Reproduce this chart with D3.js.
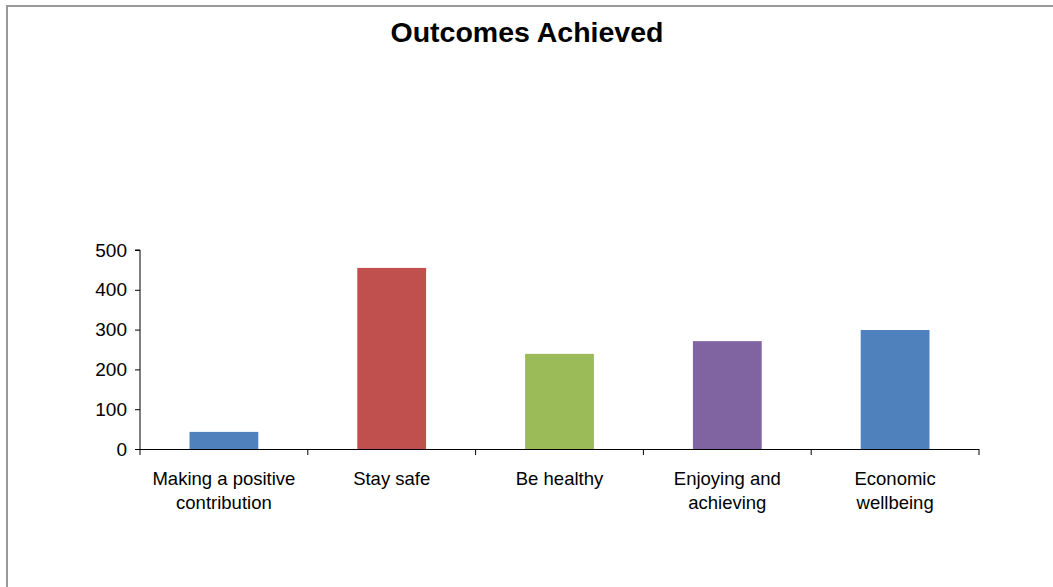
<!DOCTYPE html>
<html>
<head>
<meta charset="utf-8">
<script src="https://cdn.jsdelivr.net/npm/d3@7"></script>
<style>
  html, body { margin: 0; padding: 0; background: #fff; }
  svg { display: block; }
</style>
</head>
<body>
<svg id="chart" width="1053" height="587"></svg>
<script>
const title = "Outcomes Achieved";
const categories = [
  ["Making a positive", "contribution"],
  ["Stay safe"],
  ["Be healthy"],
  ["Enjoying and", "achieving"],
  ["Economic", "wellbeing"]
];
const values = [43, 455, 239, 271, 299];
const colors = ["#4F81BD", "#C0504D", "#9BBB59", "#8064A2", "#4F81BD"];
const yTicks = [0, 100, 200, 300, 400, 500];

const svg = d3.select("#chart");
const W = 1053, H = 587;
const font = "'Liberation Sans', Arial, sans-serif";

// outer frame
svg.append("rect")
  .attr("x", 7).attr("y", 6).attr("width", W + 10).attr("height", H + 10)
  .attr("fill", "#fff").attr("stroke", "#999").attr("stroke-width", 2);

const m = { left: 140, right: 979, top: 250, bottom: 449 };

const x = d3.scaleBand()
  .domain(categories.map((d, i) => i))
  .range([m.left, m.right])
  .paddingInner(0.59)
  .paddingOuter(0.295);

const y = d3.scaleLinear().domain([0, 500]).range([m.bottom, m.top]);

// bars
svg.append("g").selectAll("rect")
  .data(values)
  .join("rect")
  .attr("x", (d, i) => x(i))
  .attr("width", x.bandwidth())
  .attr("y", d => y(d))
  .attr("height", d => y(0) - y(d))
  .attr("fill", (d, i) => colors[i]);

// y axis
const yAxis = svg.append("g")
  .attr("transform", `translate(${m.left},0)`)
  .call(d3.axisLeft(y).tickValues(yTicks).tickSize(5).tickPadding(8));
yAxis.select(".domain").attr("stroke", "#000").attr("d", `M-5,${m.top}H0V${m.bottom}`);
yAxis.selectAll("line").attr("stroke", "#000");
yAxis.selectAll("text").attr("font-family", font).attr("font-size", 19).attr("fill", "#000");

// x axis
const step = (m.right - m.left) / categories.length;
const xg = svg.append("g");
xg.append("line")
  .attr("x1", m.left).attr("x2", m.right)
  .attr("y1", m.bottom + 0.5).attr("y2", m.bottom + 0.5)
  .attr("stroke", "#000");
xg.selectAll("line.tick")
  .data(d3.range(categories.length + 1))
  .join("line")
  .attr("class", "tick")
  .attr("x1", i => m.left + i * step).attr("x2", i => m.left + i * step)
  .attr("y1", m.bottom).attr("y2", m.bottom + 6)
  .attr("stroke", "#000");

const labels = xg.selectAll("text.lab")
  .data(categories)
  .join("text")
  .attr("class", "lab")
  .attr("text-anchor", "middle")
  .attr("font-family", font)
  .attr("font-size", 18.5)
  .attr("fill", "#000")
  .attr("transform", (d, i) => `translate(${x(i) + x.bandwidth() / 2},485)`);
labels.selectAll("tspan")
  .data(d => d)
  .join("tspan")
  .attr("x", 0)
  .attr("dy", (d, j) => j === 0 ? 0 : 24)
  .text(d => d);

// title
svg.append("text")
  .attr("x", 527).attr("y", 42)
  .attr("text-anchor", "middle")
  .attr("font-family", font)
  .attr("font-weight", "bold")
  .attr("font-size", 28.5)
  .attr("fill", "#000")
  .text(title);
</script>
</body>
</html>
